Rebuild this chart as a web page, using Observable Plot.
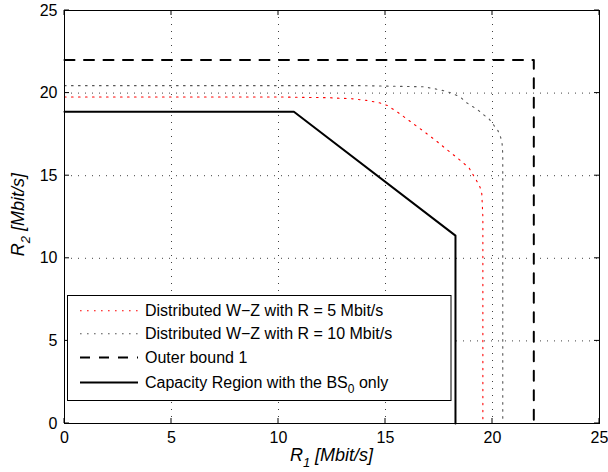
<!DOCTYPE html>
<html>
<head>
<meta charset="utf-8">
<script src="https://cdn.jsdelivr.net/npm/d3@7"></script>
<script src="https://cdn.jsdelivr.net/npm/@observablehq/plot@0.6"></script>
<style>
  html, body { margin: 0; padding: 0; background: #fff; }
  #chart svg { display: block; }
</style>
</head>
<body>
<div id="chart"></div>
<script>
// ---- data ----
const xTicks = [0, 5, 10, 15, 20, 25];
const yTicks = [0, 5, 10, 15, 20, 25];

const wz5R1 = [0, 10.3, 12.35, 13.4, 14.1, 14.75, 15.1, 15.65, 16.2, 16.75, 17.3, 17.85, 18.35, 18.9, 19.25, 19.42, 19.5, 19.55, 19.55];
const wz5R2 = [19.76, 19.76, 19.72, 19.66, 19.56, 19.4, 19.24, 18.77, 18.24, 17.72, 17.18, 16.6, 16.08, 15.48, 14.71, 14.3, 13.9, 12.5, 0];

const wz10R1 = [0, 14, 16.8, 17.55, 18.05, 18.5, 18.75, 19.3, 19.57, 19.83, 20.07, 20.25, 20.38, 20.45, 20.48, 20.48];
const wz10R2 = [20.45, 20.45, 20.38, 20.2, 20.02, 19.76, 19.45, 19.0, 18.7, 18.45, 18.04, 17.74, 17.33, 16.93, 16.3, 0];

const outerR1 = [0, 21.93, 21.93];
const outerR2 = [22.0, 22.0, 0];

const capR1 = [0, 10.72, 18.27, 18.27];
const capR2 = [18.87, 18.87, 11.37, 0];

const seriesNames = [
  "Distributed W\u2212Z with R = 5 Mbit/s",
  "Distributed W\u2212Z with R = 10 Mbit/s",
  "Outer bound 1",
  "Capacity Region with the BS"
];

const toPts = (xs, ys) => xs.map((x, i) => ({x, y: ys[i]}));

const styles = [
  {stroke: "#ff0000", strokeWidth: 1.1, strokeDasharray: "1.6,5.4"},
  {stroke: "#555555", strokeWidth: 1.1, strokeDasharray: "1.6,5.4"},
  {stroke: "#000000", strokeWidth: 2, strokeDasharray: "10,9.5"},
  {stroke: "#000000", strokeWidth: 2}
];

const datasets = [toPts(wz5R1, wz5R2), toPts(wz10R1, wz10R2), toPts(outerR1, outerR2), toPts(capR1, capR2)];

const chart = Plot.plot({
  width: 608,
  height: 472,
  marginLeft: 64,
  marginRight: 9,
  marginTop: 10,
  marginBottom: 49,
  style: {fontFamily: "'Liberation Sans', Arial, sans-serif", fontSize: "16px", color: "#000", background: "#fff"},
  x: {domain: [0, 25], label: null},
  y: {domain: [0, 25], label: null},
  marks: [
    Plot.gridX(xTicks, {stroke: "#000", strokeOpacity: 0.75, strokeDasharray: "1,6"}),
    Plot.gridY(yTicks, {stroke: "#000", strokeOpacity: 0.75, strokeDasharray: "1,6"}),
    ...datasets.map((d, i) => Plot.line(d, {x: "x", y: "y", strokeLinejoin: "round", ...styles[i]})),
    Plot.frame({stroke: "#000", strokeWidth: 1}),
    Plot.axisX(xTicks, {tickSize: 0, tickPadding: 8, fontSize: 16}),
    Plot.axisY(yTicks, {tickSize: 0, tickPadding: 7, fontSize: 16})
  ]
});

document.getElementById("chart").appendChild(chart);

const svg = d3.select(chart);
const xs = chart.scale("x"), ys = chart.scale("y");
const x0 = xs.apply(0), x1 = xs.apply(25), y0 = ys.apply(0), y1 = ys.apply(25);
const tl = 5;
const tg = svg.append("g").attr("stroke", "#000").attr("stroke-width", 1);
xTicks.forEach(v => {
  const px = xs.apply(v);
  tg.append("line").attr("x1", px).attr("x2", px).attr("y1", y0).attr("y2", y0 - tl);
  tg.append("line").attr("x1", px).attr("x2", px).attr("y1", y1).attr("y2", y1 + tl);
});
yTicks.forEach(v => {
  const py = ys.apply(v);
  tg.append("line").attr("y1", py).attr("y2", py).attr("x1", x0).attr("x2", x0 + tl);
  tg.append("line").attr("y1", py).attr("y2", py).attr("x1", x1).attr("x2", x1 - tl);
});

// axis labels
const font = "'Liberation Sans', Arial, sans-serif";
const xl = svg.append("text")
  .attr("x", (x0 + x1) / 2).attr("y", 461)
  .attr("text-anchor", "middle")
  .attr("font-family", font).attr("font-size", 18).attr("font-style", "italic").attr("fill", "#000");
xl.append("tspan").text("R");
xl.append("tspan").attr("font-size", 13).attr("dy", 6).text("1");
xl.append("tspan").attr("dy", -6).text(" [Mbit/s]");

const yl = svg.append("text")
  .attr("transform", `translate(24,${(y0 + y1) / 2 - 2}) rotate(-90)`)
  .attr("text-anchor", "middle")
  .attr("font-family", font).attr("font-size", 18).attr("font-style", "italic").attr("fill", "#000");
yl.append("tspan").text("R");
yl.append("tspan").attr("font-size", 13).attr("dy", 6).text("2");
yl.append("tspan").attr("dy", -6).text(" [Mbit/s]");

// legend
const lg = svg.append("g").attr("font-family", font).attr("font-size", 16).attr("text-anchor", "start");
lg.append("rect").attr("x", 67.5).attr("y", 295.5).attr("width", 383.5).attr("height", 105)
  .attr("fill", "#fff").attr("stroke", "#000").attr("stroke-width", 1);
const rowsY = [310.7, 333.8, 357.5, 382.5];
seriesNames.forEach((name, i) => {
  const s = styles[i];
  const ln = lg.append("line").attr("x1", 80).attr("x2", 138).attr("y1", rowsY[i]).attr("y2", rowsY[i])
    .attr("stroke", s.stroke).attr("stroke-width", s.strokeWidth);
  if (s.strokeDasharray) ln.attr("stroke-dasharray", i === 2 ? "10,9" : s.strokeDasharray);
  const t = lg.append("text").attr("x", 145).attr("y", rowsY[i] + 5.5).attr("fill", "#000").attr("text-anchor", "start");
  t.append("tspan").text(name);
  if (i === 3) {
    t.append("tspan").attr("font-size", 12).attr("dy", 5).text("0");
    t.append("tspan").attr("dy", -5).text(" only");
  }
});
</script>
</body>
</html>
